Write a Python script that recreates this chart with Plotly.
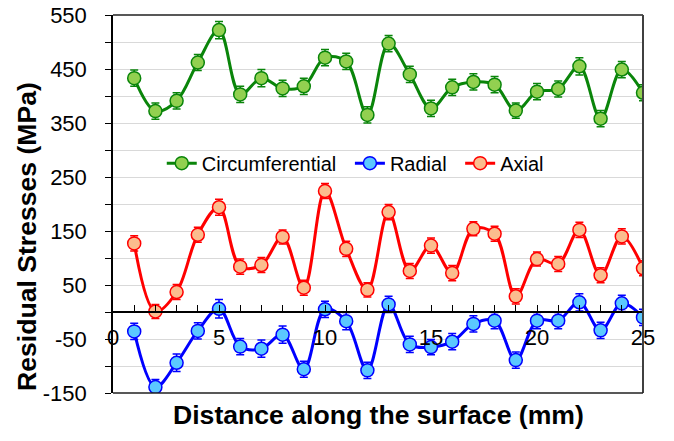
import plotly.graph_objects as go

distance = list(range(1, 26))

circumferential = [433, 372, 391, 462, 522, 403, 433, 414, 418, 471, 464, 365,
                   497, 440, 377, 416, 426, 421, 373, 408, 413, 455, 358, 449, 406]
circumferential_err = [15, 15, 15, 15, 16, 15, 16, 15, 15, 15, 15, 15,
                       15, 15, 15, 15, 15, 15, 14, 15, 15, 16, 15, 15, 15]

radial = [-36, -139, -94, -35, 6, -64, -68, -42, -106, 5, -17, -108,
          14, -60, -65, -55, -22, -16, -89, -16, -16, 18, -34, 16, -10]
radial_err = [15, 14, 16, 15, 17, 15, 16, 16, 15, 15, 16, 15,
              15, 15, 14, 15, 15, 15, 15, 15, 15, 16, 15, 15, 15]

axial = [127, 1, 37, 143, 194, 84, 87, 139, 45, 224, 117, 41,
         185, 76, 123, 72, 154, 145, 29, 98, 89, 152, 68, 140, 81]
axial_err = [14, 13, 14, 14, 15, 14, 14, 13, 14, 14, 14, 13,
             14, 14, 14, 14, 13, 14, 14, 13, 14, 14, 14, 14, 14]

x_tick_vals = [0, 5, 10, 15, 20, 25]
x_tick_text = ["0", "5", "10", "15", "20", "25"]
y_tick_vals = list(range(-150, 551, 50))
y_tick_text = ["-150", "", "-50", "", "50", "", "150", "", "250", "", "350", "", "450", "", "550"]

FONT = "Arial, Liberation Sans, sans-serif"

series = [
    ("Circumferential", circumferential, circumferential_err, "#0A850A", "#92D050", "legend", 0.092),
    ("Radial", radial, radial_err, "#0000FF", "#5BC8FF", "legend2", 0.447),
    ("Axial", axial, axial_err, "#FF0000", "#FBBD8E", "legend3", 0.655),
]

fig = go.Figure()
legend_layouts = {}
for name, vals, err, line_c, fill_c, leg, lx in series:
    fig.add_trace(go.Scatter(
        x=distance, y=vals, name=name, mode="lines+markers", legend=leg,
        line=dict(color=line_c, width=3, shape="spline", smoothing=1.0),
        marker=dict(size=13, color=fill_c, line=dict(color=line_c, width=1.5)),
        error_y=dict(type="data", array=err, visible=True, color=line_c,
                     thickness=1.5, width=4),
    ))
    legend_layouts[leg] = dict(orientation="h", x=lx, y=0.608, xanchor="left", yanchor="middle",
                               bgcolor="rgba(0,0,0,0)", font=dict(size=20, family=FONT))

fig.update_layout(
    width=674, height=441,
    margin=dict(l=113, r=31, t=15, b=48, autoexpand=False),
    paper_bgcolor="white", plot_bgcolor="white",
    font=dict(family=FONT, color="black"),
    showlegend=True,
    **legend_layouts,
    xaxis=dict(
        range=[0, 25], anchor="free", position=150 / 700, automargin=False,
        tickvals=x_tick_vals, ticktext=x_tick_text, ticklabeloverflow="allow",
        tickfont=dict(size=22, family=FONT),
        ticks="inside", ticklen=6, tickwidth=1, tickcolor="black",
        minor=dict(dtick=1, ticks="inside", ticklen=6, tickwidth=1, tickcolor="black"),
        showline=True, linecolor="black", linewidth=1.5,
        showgrid=False, zeroline=False, ticklabelstandoff=6,
    ),
    yaxis=dict(
        range=[-150, 550], tickvals=y_tick_vals, ticktext=y_tick_text, automargin=False,
        ticklabeloverflow="allow", ticklabelstandoff=14,
        tickfont=dict(size=22, family=FONT),
        ticks="outside", ticklen=6, tickwidth=1, tickcolor="black",
        showline=True, linecolor="black", linewidth=1.5,
        showgrid=True, gridcolor="#D9D9D9", gridwidth=1.2,
        zeroline=False,
    ),
    shapes=[
        dict(type="line", xref="paper", yref="paper", x0=0, x1=1, y0=1, y1=1,
             line=dict(color="#202020", width=1.5)),
        dict(type="line", xref="paper", yref="paper", x0=1, x1=1, y0=0, y1=1,
             line=dict(color="#404040", width=2)),
        dict(type="line", xref="paper", yref="paper", x0=0, x1=1, y0=0, y1=0,
             line=dict(color="#202020", width=1.5)),
    ],
    annotations=[
        dict(text="<b>Residual Stresses (MPa)</b>", xref="paper", yref="paper",
             x=-0.162, y=0.413, xanchor="center", yanchor="middle", textangle=-90,
             showarrow=False, font=dict(size=26.6, family=FONT)),
        dict(text="<b>Distance along the surface (mm)</b>", xref="paper", yref="paper",
             x=0.5, y=-0.058, xanchor="center", yanchor="middle",
             showarrow=False, font=dict(size=26.6, family=FONT)),
    ],
)

fig.write_html("out.html", config={"displayModeBar": False},
               post_script="document.body.style.margin='0px';")
